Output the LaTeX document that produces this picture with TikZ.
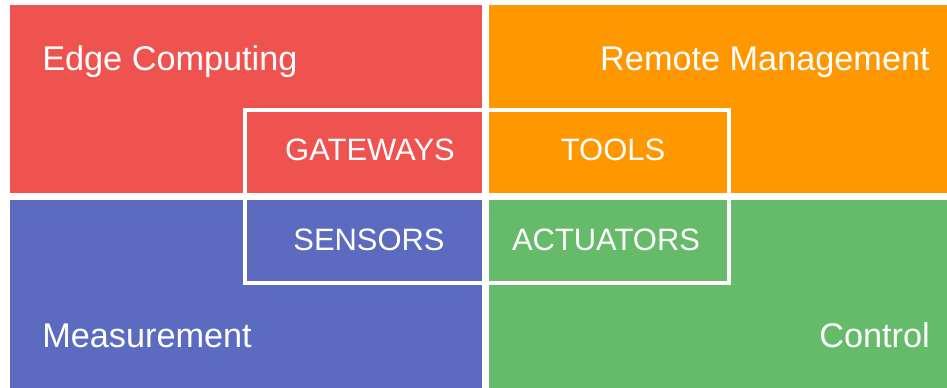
\documentclass[tikz,border=0pt]{standalone}
\usepackage{fontspec}
\setmainfont{Liberation Sans}
\usetikzlibrary{positioning}
\definecolor{EdgeRed}{RGB}{239,83,80}
\definecolor{RemoteOrange}{RGB}{255,152,0}
\definecolor{MeasureBlue}{RGB}{92,107,192}
\definecolor{ControlGreen}{RGB}{102,187,106}

\begin{document}
\begin{tikzpicture}[x=0.75pt,y=-0.75pt,
  biglabel/.style={text=white,font=\fontsize{25.7}{30}\selectfont,inner sep=0pt},
  smalllabel/.style={text=white,font=\fontsize{23.2}{27}\selectfont,inner sep=0pt,anchor=base}]
\fill[white] (0,0) rectangle (947,388);
\fill[EdgeRed] (10,5) rectangle (482,193);\fill[RemoteOrange] (489,5) rectangle (947,193);
\fill[MeasureBlue] (10,200) rectangle (482,388);\fill[ControlGreen] (489,200) rectangle (947,388);
\draw[white,line width=3pt] (245,110) rectangle (729,283);
\node[biglabel,anchor=base west] (edge) at (42,71){Edge Computing};
\node[biglabel,anchor=base east] (remote) at (930,71){Remote Management};
\node[biglabel,anchor=base west] (measure) at (42,348){Measurement};
\node[biglabel,anchor=base east] (control) at (930,348){Control};
\node[smalllabel] (gateways) at (370,161){GATEWAYS};
\node[smalllabel] (tools) at (613,161){TOOLS};
\node[smalllabel] (sensors) at (369,251){SENSORS};
\node[smalllabel] (actuators) at (606,251){ACTUATORS};
\end{tikzpicture}
\end{document}
